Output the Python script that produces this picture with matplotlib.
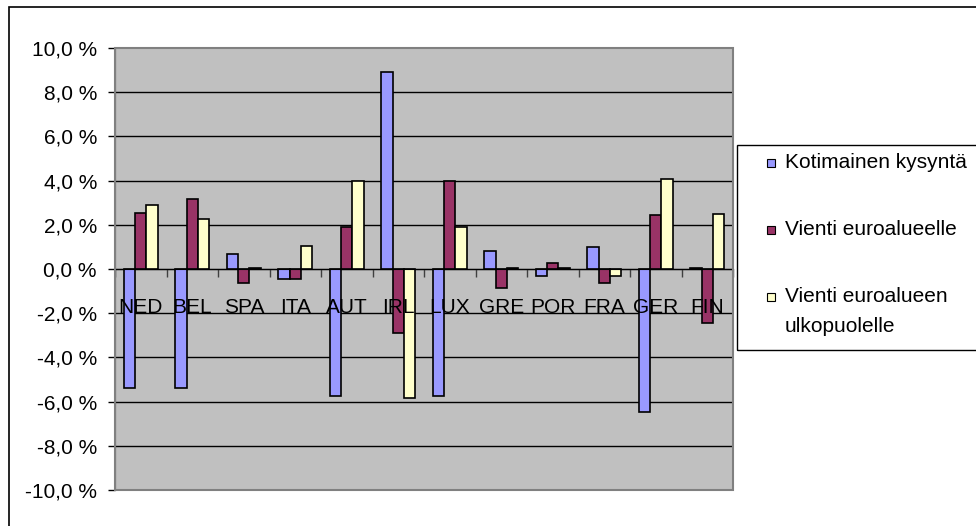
import matplotlib
matplotlib.use('Agg')
import matplotlib.pyplot as plt
from matplotlib.patches import Rectangle
import numpy as np

plt.rcParams['font.family'] = ['Liberation Sans Narrow', 'Liberation Sans', 'DejaVu Sans']

## countries and contributions (%)
countries = ['NED', 'BEL', 'SPA', 'ITA', 'AUT', 'IRL', 'LUX', 'GRE', 'POR', 'FRA', 'GER', 'FIN']
domestic = [-5.4, -5.4, 0.7, -0.45, -5.75, 8.9, -5.75, 0.8, -0.3, 1.0, -6.45, 0.05]
euro_exports = [2.55, 3.15, -0.65, -0.45, 1.9, -2.9, 4.0, -0.85, 0.25, -0.65, 2.45, -2.45]
non_euro_exports = [2.9, 2.25, 0.05, 1.05, 4.0, -5.85, 1.9, 0.05, 0.05, -0.3, 4.05, 2.5]

series_names = ['Kotimainen kysyntä', 'Vienti euroalueelle', 'Vienti euroalueen\nulkopuolelle']
series_colors = ['#9999FF', '#993366', '#FFFFCC']
y_ticks = [-10, -8, -6, -4, -2, 0, 2, 4, 6, 8, 10]

FS = 15
W, H = 976, 526
fig = plt.figure(figsize=(W / 100, H / 100), dpi=100)
ax = fig.add_axes([115 / W, 1 - 490 / H, (733 - 115) / W, (490 - 48) / H])
ax.set_facecolor('#C0C0C0')

x = np.arange(len(countries))
w = 1 / 4.5  # excel default gap width 150%
for k, (vals, col) in enumerate(zip([domestic, euro_exports, non_euro_exports], series_colors)):
    ax.bar(x + (k - 1) * w, vals, width=w, color=col, edgecolor='black', linewidth=1.2, zorder=3)

ax.set_xlim(-0.5, len(countries) - 0.5)
ax.set_ylim(-10, 10)

## gridlines (inner only, the edges are the plot border)
for t in y_ticks[1:-1]:
    ax.axhline(t, color='black', linewidth=1.0, zorder=1)

ax.set_yticks(y_ticks)
ax.set_yticklabels([('%.1f %%' % t).replace('.', ',') for t in y_ticks], fontsize=FS)
ax.tick_params(axis='y', direction='out', length=5, width=1, pad=8, colors='black')

## x axis at zero with ticks between categories
ax.spines['bottom'].set_position(('data', 0))
ax.spines['bottom'].set_zorder(4)
ax.set_xticks(np.arange(len(countries) + 1) - 0.5)
ax.set_xticklabels([])
ax.tick_params(axis='x', direction='out', length=6, width=1, color='#404040')
for sp in ['top', 'right']:
    ax.spines[sp].set_visible(False)
ax.spines['left'].set_color('#404040')
ax.add_patch(Rectangle((0, 0), 1, 1, transform=ax.transAxes, fill=False,
                       edgecolor='#808080', linewidth=1.5, zorder=5, clip_on=False))

for i, name in enumerate(countries):
    ax.annotate(name, (i, 0), xytext=(0, -28), textcoords='offset points',
                ha='center', va='center', fontsize=FS, zorder=6)

## legend drawn by hand
def fx(px):
    return px / W

def fy(py):
    return 1 - py / H

fig.patches.append(Rectangle((fx(737), fy(350)), fx(260), (350 - 145) / H, transform=fig.transFigure,
                             fill=False, edgecolor='black', linewidth=1.0))
rows = [163, 230, 297]
for name, col, ry in zip(series_names, series_colors, rows):
    fig.patches.append(Rectangle((fx(767), fy(ry + 4)), fx(8), 8 / H, transform=fig.transFigure,
                                 facecolor=col, edgecolor='black', linewidth=0.8))
    fig.text(fx(785), fy(ry - 10), name, fontsize=FS, ha='left', va='top', linespacing=1.75)

## outer chart border
fig.patches.append(Rectangle((fx(9), fy(560)), fx(1000), 553 / H, transform=fig.transFigure,
                             fill=False, edgecolor='black', linewidth=1.2))

fig.savefig('out.png', dpi=100)
